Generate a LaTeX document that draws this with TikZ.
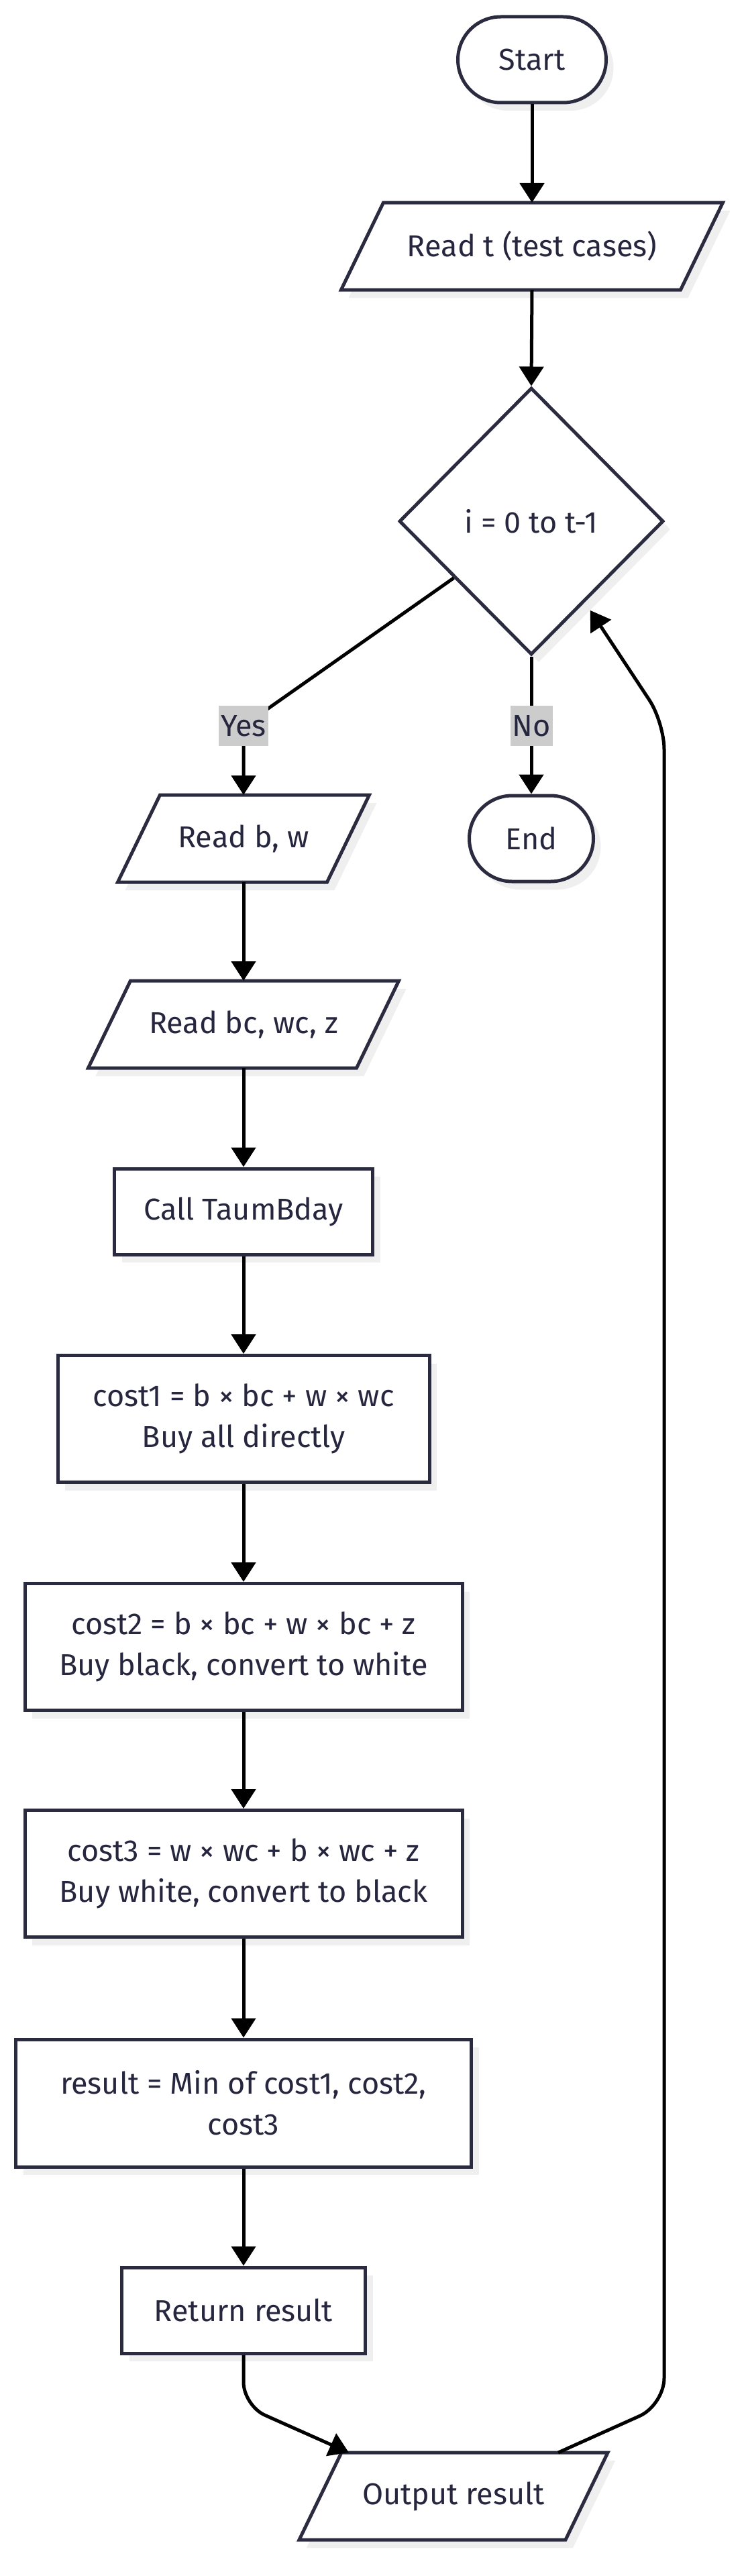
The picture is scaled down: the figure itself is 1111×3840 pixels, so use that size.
\documentclass[tikz,border=0pt]{standalone}
\usepackage{fontspec}
\setmainfont{Fira Sans}
\usetikzlibrary{arrows.meta,shapes.geometric,shadows,calc,backgrounds}
\definecolor{nodeline}{HTML}{2B2B40}
\definecolor{txt}{HTML}{26263E}
\definecolor{shadowc}{HTML}{EFEFEF}
\definecolor{lblbg}{HTML}{CCCCCC}
\newcommand\mfont{\fontsize{45}{61}\selectfont}
\newcommand\paradraw[1]{%
  \fill[shadowc] ([shift={(42.5,12)}]#1.north west) -- ([shift={(42.5,12)}]#1.north east)
     -- ([shift={(-20.5,12)}]#1.south east) -- ([shift={(-20.5,12)}]#1.south west) -- cycle;
  \draw[draw=nodeline, line width=5pt, fill=white, line join=miter]
     ([xshift=31.5pt]#1.north west) -- ([xshift=31.5pt]#1.north east)
     -- ([xshift=-31.5pt]#1.south east) -- ([xshift=-31.5pt]#1.south west) -- cycle;}
\begin{document}
\begin{tikzpicture}[x=1pt,y=-1pt,
  shad/.style={drop shadow={shadow xshift=11pt, shadow yshift=-12pt, fill=shadowc, opacity=1}},
  box/.style={shad, draw=nodeline, line width=5pt, fill=white, rectangle, inner sep=0pt,
     align=center, text=txt, font=\mfont},
  stadium/.style={box, rounded corners=64pt, minimum width=221pt, minimum height=128pt},
  para/.style={rectangle, inner sep=0pt, outer sep=0pt, minimum height=130pt, align=center,
     text=txt, font=\mfont},
  decision/.style={box, diamond, aspect=1, minimum width=394pt, minimum height=398pt},
  edge/.style={draw=black, line width=5pt, line join=round, -{Triangle[length=29pt,width=36pt]}},
  lbl/.style={fill=lblbg, text=txt, font=\mfont, inner xsep=3pt, inner ysep=0pt, minimum height=60pt}]
\useasboundingbox (0,0) rectangle (1111,3840);

% nodes
\node[stadium] (start) at (793,89) {Start};
\node[para, minimum width=506pt] (readt) at (793,367) {Read t (test cases)};
\node[decision] (dia) at (792,777) {i = 0 to t-1};
\node[stadium, minimum width=185pt, minimum height=128pt] (end) at (792,1250) {End};
\node[para, minimum width=312pt] (readbw) at (363,1250) {Read b, w};
\node[para, minimum width=400pt] (readbc) at (363,1527) {Read bc, wc, z};
\node[box, minimum width=385pt, minimum height=128pt] (call) at (363,1806) {Call TaumBday};
\node[box, minimum width=554pt, minimum height=189pt] (cost1) at (363,2115) {cost1 = b × bc + w × wc\\Buy all directly};
\node[box, minimum width=652pt, minimum height=189pt] (cost2) at (363,2455) {cost2 = b × bc + w × bc + z\\Buy black, convert to white};
\node[box, minimum width=652pt, minimum height=189pt] (cost3) at (363,2793) {cost3 = w × wc + b × wc + z\\Buy white, convert to black};
\node[box, minimum width=679pt, minimum height=190pt] (result) at (363,3135) {result = Min of cost1, cost2,\\cost3};
\node[box, minimum width=363pt, minimum height=128pt] (ret) at (363,3444) {Return result};
\node[para, minimum width=397pt] (out) at (676,3721) {Output result};

\begin{scope}[on background layer]
  \fill[white] (0,0) rectangle (1111,3840);
  \paradraw{readt}
  \paradraw{readbw}
  \paradraw{readbc}
  \paradraw{out}
\end{scope}

% helper coordinates
\coordinate (yesfrom) at ($(dia.west)!0.42!(dia.south)$);
\coordinate (ybend) at (363,1082);
\coordinate (nlab) at (792,1082);
\coordinate (rbend) at (363,3586);
\coordinate (outin) at ([xshift=-156pt]out.north);
\coordinate (outleave) at ([xshift=156pt]out.north);
\coordinate (lbot) at (990,3585);
\coordinate (ltop) at (990,1077);
\coordinate (looptip) at ($($(dia.east)!0.56!(dia.south)$)+(0,20)$);

% edges
\draw[edge] (start.south) -- (readt.north);
\draw[edge] (readt.south) -- (dia.north);
\draw[edge, rounded corners=30pt] (yesfrom) -- (ybend) -- (readbw.north);
\draw[edge] (dia.south) -- (end.north);
\draw[edge] (readbw.south) -- (readbc.north);
\draw[edge] (readbc.south) -- (call.north);
\draw[edge] (call.south) -- (cost1.north);
\draw[edge] (cost1.south) -- (cost2.north);
\draw[edge] (cost2.south) -- (cost3.north);
\draw[edge] (cost3.south) -- (result.north);
\draw[edge] (result.south) -- (ret.north);
\draw[edge, rounded corners=35pt] (ret.south) -- (rbend) -- (outin);
\draw[edge, rounded corners=40pt] (outleave) -- (lbot) -- (ltop) -- (looptip);

% labels
\node[lbl] (yes) at (ybend) {Yes};
\node[lbl] (no) at (nlab) {No};
\end{tikzpicture}
\end{document}
